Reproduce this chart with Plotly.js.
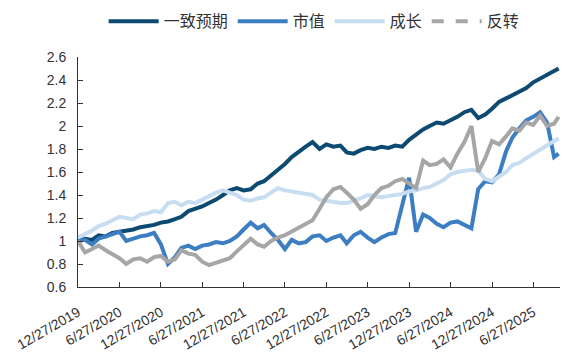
<!DOCTYPE html>
<html><head><meta charset="utf-8">
<script src="https://cdn.plot.ly/plotly-3.0.1.min.js"></script>
<style>html,body{margin:0;padding:0;background:#fff;}#chart{width:567px;height:354px;}</style>
</head><body><div id="chart"></div>
<script>
const dates = ['2019-12-27','2020-01-27','2020-02-27','2020-03-27','2020-04-27','2020-05-27','2020-06-27','2020-07-27','2020-08-27','2020-09-27','2020-10-27','2020-11-27',
'2020-12-27','2021-01-27','2021-02-27','2021-03-27','2021-04-27','2021-05-27','2021-06-27','2021-07-27','2021-08-27','2021-09-27','2021-10-27','2021-11-27',
'2021-12-27','2022-01-27','2022-02-27','2022-03-27','2022-04-27','2022-05-27','2022-06-27','2022-07-27','2022-08-27','2022-09-27','2022-10-27','2022-11-27',
'2022-12-27','2023-01-27','2023-02-27','2023-03-27','2023-04-27','2023-05-27','2023-06-27','2023-07-27','2023-08-27','2023-09-27','2023-10-27','2023-11-27',
'2023-12-27','2024-01-27','2024-02-27','2024-03-27','2024-04-27','2024-05-27','2024-06-27','2024-07-27','2024-08-27','2024-09-27','2024-10-27','2024-11-27',
'2024-12-27','2025-01-27','2025-02-27','2025-03-27','2025-04-27','2025-05-27','2025-06-27','2025-07-27','2025-08-27','2025-09-27','2025-10-17'];

const consensus = [1.00,1.02,1.01,1.05,1.04,1.07,1.08,1.09,1.10,1.12,1.13,1.14,
1.16,1.17,1.19,1.21,1.26,1.28,1.30,1.33,1.36,1.40,1.44,1.46,
1.44,1.45,1.50,1.52,1.57,1.62,1.67,1.73,1.78,1.82,1.86,1.80,
1.84,1.82,1.83,1.77,1.76,1.79,1.81,1.80,1.82,1.81,1.83,1.82,
1.88,1.93,1.97,2.00,2.03,2.02,2.05,2.08,2.12,2.14,2.07,2.10,
2.15,2.21,2.24,2.27,2.30,2.33,2.38,2.41,2.45,2.48,2.50];

const marketCap = [1.00,1.01,0.97,1.02,1.04,1.06,1.08,1.00,1.02,1.04,1.05,1.07,
0.97,0.80,0.86,0.94,0.96,0.93,0.96,0.97,0.99,0.98,1.00,1.04,
1.10,1.16,1.11,1.14,1.07,1.01,0.93,1.01,0.98,0.99,1.04,1.05,
1.00,1.03,1.05,0.98,1.05,1.08,1.03,0.99,1.03,1.06,1.07,1.32,
1.55,1.08,1.23,1.20,1.15,1.12,1.16,1.17,1.14,1.11,1.45,1.52,
1.51,1.58,1.78,1.90,1.98,2.05,2.08,2.12,2.03,1.73,1.76];

const growth = [1.03,1.06,1.09,1.13,1.15,1.18,1.21,1.20,1.19,1.23,1.24,1.26,
1.25,1.33,1.34,1.31,1.34,1.33,1.36,1.39,1.42,1.44,1.42,1.40,
1.36,1.35,1.37,1.38,1.42,1.46,1.44,1.43,1.42,1.41,1.40,1.36,
1.35,1.34,1.33,1.33,1.35,1.37,1.40,1.39,1.38,1.39,1.40,1.41,
1.43,1.44,1.46,1.47,1.50,1.53,1.58,1.60,1.61,1.62,1.61,1.54,
1.52,1.56,1.60,1.66,1.68,1.72,1.76,1.80,1.84,1.87,1.89];

const reversal = [1.00,0.90,0.93,0.96,0.92,0.89,0.85,0.80,0.84,0.85,0.82,0.86,
0.87,0.82,0.84,0.92,0.89,0.88,0.82,0.79,0.81,0.83,0.85,0.91,
0.96,1.02,0.97,0.95,1.00,1.03,1.05,1.08,1.12,1.15,1.18,1.28,
1.38,1.45,1.47,1.42,1.36,1.28,1.32,1.40,1.46,1.48,1.52,1.54,
1.50,1.46,1.70,1.66,1.67,1.71,1.64,1.76,1.86,2.00,1.60,1.72,
1.87,1.84,1.91,1.98,1.96,2.03,2.01,2.09,2.00,2.02,2.08];

const tickDates = ['2019-12-27','2020-06-27','2020-12-27','2021-06-27','2021-12-27','2022-06-27','2022-12-27','2023-06-27','2023-12-27','2024-06-27','2024-12-27','2025-06-27'];
const tickLabels = ['12/27/2019','6/27/2020','12/27/2020','6/27/2021','12/27/2021','6/27/2022','12/27/2022','6/27/2023','12/27/2023','6/27/2024','12/27/2024','6/27/2025'];
const seriesNames = ['一致预期','市值','成长','反转'];
const colors = ['#0C4A72','#3D7EC3','#C7DDF1','#A6A6A6'];

const lw = 4;
const traces = [
  {x: dates, y: consensus, name: seriesNames[0], type:'scatter', mode:'lines', line:{color:colors[0], width:lw}},
  {x: dates, y: marketCap, name: seriesNames[1], type:'scatter', mode:'lines', line:{color:colors[1], width:lw}},
  {x: dates, y: growth, name: seriesNames[2], type:'scatter', mode:'lines', line:{color:colors[2], width:lw}},
  {x: dates, y: reversal, name: seriesNames[3], type:'scatter', mode:'lines', line:{color:colors[3], width:lw}, showlegend:false},
  {x: [null], y: [null], name: seriesNames[3], type:'scatter', mode:'lines', line:{color:colors[3], width:lw, dash:'dash'}, hoverinfo:'skip'}
];

const tickFontX = {family:'"Liberation Sans", Arial, sans-serif', size:14, color:'#333'};
const tickFontY = {family:'"Liberation Sans", Arial, sans-serif', size:14, color:'#333'};
const layout = {
  width:567, height:354,
  margin:{l:78, r:7, t:57, b:67},
  paper_bgcolor:'#fff', plot_bgcolor:'#fff',
  showlegend:true,
  legend:{orientation:'h', x:0.49, xanchor:'center', xref:'paper', y:0.94, yref:'container', yanchor:'middle',
    font:{family:'"Noto Sans CJK SC", sans-serif', size:16, color:'#333'}, itemwidth:50, tracegroupgap:0},
  xaxis:{type:'date', range:['2019-12-27','2025-10-23'], tickmode:'array', tickvals:tickDates, ticktext:tickLabels,
    tickangle:-30, ticks:'inside', ticklen:5, tickcolor:'#333', showline:true, linecolor:'#333', linewidth:1,
    showgrid:false, zeroline:false, tickfont:tickFontX, ticklabelstandoff:11},
  yaxis:{range:[0.6,2.6], dtick:0.2, tick0:0.6, ticks:'inside', ticklen:5, tickcolor:'#333', showline:true, linecolor:'#333', linewidth:1,
    showgrid:false, zeroline:false, tickfont:tickFontY, ticklabelstandoff:8}
};
Plotly.newPlot('chart', traces, layout, {displayModeBar:false, staticPlot:true});
</script></body></html>
